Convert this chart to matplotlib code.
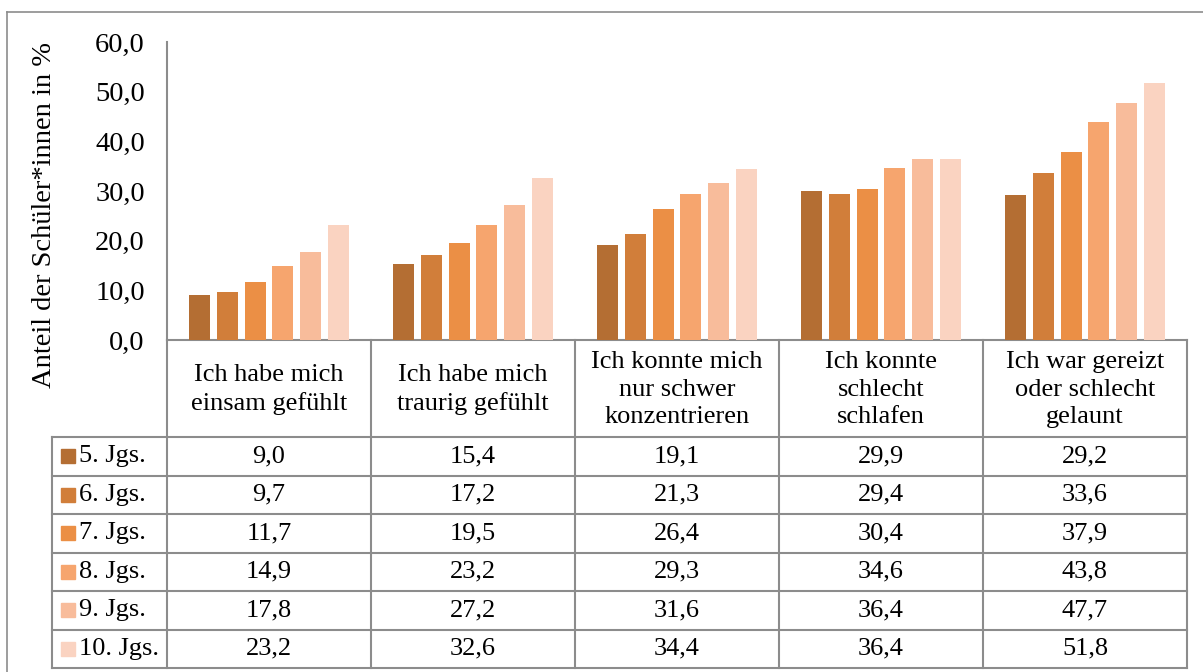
import matplotlib.pyplot as plt
from matplotlib.patches import Rectangle
import numpy as np

plt.rcParams['font.family'] = ['Liberation Serif', 'DejaVu Serif']

categories = ['Ich habe mich\neinsam gefühlt',
              'Ich habe mich\ntraurig gefühlt',
              'Ich konnte mich\nnur schwer\nkonzentrieren',
              'Ich konnte\nschlecht\nschlafen',
              'Ich war gereizt\noder schlecht\ngelaunt']
grades = ['5. Jgs.', '6. Jgs.', '7. Jgs.', '8. Jgs.', '9. Jgs.', '10. Jgs.']
jgs5 = [9.0, 15.4, 19.1, 29.9, 29.2]
jgs6 = [9.7, 17.2, 21.3, 29.4, 33.6]
jgs7 = [11.7, 19.5, 26.4, 30.4, 37.9]
jgs8 = [14.9, 23.2, 29.3, 34.6, 43.8]
jgs9 = [17.8, 27.2, 31.6, 36.4, 47.7]
jgs10 = [23.2, 32.6, 34.4, 36.4, 51.8]
series = [jgs5, jgs6, jgs7, jgs8, jgs9, jgs10]
colors = ['#B46E33', '#D17E3A', '#EB8F45', '#F6A56E', '#F8BC9B', '#FAD3C1']
yticks = [0, 10, 20, 30, 40, 50, 60]

W, H = 1203, 672
grid_col = '#8c8c8c'
fs = 19
fs_ax = 20.5

fig = plt.figure(figsize=(W / 100, H / 100), dpi=100)

# overlay in pixel coordinates for frame and table
ov = fig.add_axes([0, 0, 1, 1])
ov.set_xlim(0, W)
ov.set_ylim(H, 0)
ov.axis('off')

# plot area
x0, x1 = 167, 1187
ytop, ybot = 42, 340
ax = fig.add_axes([x0 / W, 1 - ybot / H, (x1 - x0) / W, (ybot - ytop) / H])
ax.set_facecolor('none')
ncat = len(categories)
xs = np.arange(ncat) + 0.5
step, width = 0.137, 0.103
for j, (vals, c) in enumerate(zip(series, colors)):
    ax.bar(xs + (j - 2.5) * step, vals, width=width, color=c, label=grades[j])
ax.set_xlim(0, ncat)
ax.set_ylim(0, 60)
ax.set_yticks(yticks)
ax.set_yticklabels(['{:.1f}'.format(t).replace('.', ',') for t in yticks], fontsize=fs_ax)
ax.tick_params(axis='y', length=0, pad=16)
ax.set_xticks([])
for s in ['top', 'right', 'bottom']:
    ax.spines[s].set_visible(False)
ax.spines['left'].set_color(grid_col)
ax.spines['left'].set_linewidth(1.5)

fig.text(45 / W, 1 - 215 / H, 'Anteil der Schüler*innen in %', rotation=90,
         ha='center', va='center', fontsize=fs_ax)

# outer frame
ov.plot([7, W + 5], [12, 12], color=grid_col, lw=1.2)
ov.plot([7, 7], [12, H + 5], color=grid_col, lw=1.2)

# table
colw = (x1 - x0) / ncat
col_edges = [x0 + i * colw for i in range(ncat + 1)]
head_bot = 437
row_h = (668 - head_bot) / len(grades)
row_edges = [head_bot + i * row_h for i in range(len(grades) + 1)]
leg_x = 52
lw = 1.5

ov.plot([x0, x1], [ybot, ybot], color=grid_col, lw=lw)
for xe in col_edges:
    ov.plot([xe, xe], [ybot, row_edges[-1]], color=grid_col, lw=lw)
ov.plot([leg_x, leg_x], [head_bot, row_edges[-1]], color=grid_col, lw=lw)
for ye in row_edges:
    ov.plot([leg_x, x1], [ye, ye], color=grid_col, lw=lw)

for i, cat in enumerate(categories):
    ov.text(col_edges[i] + colw / 2, (ybot + head_bot) / 2 + 1, cat, ha='center', va='center',
            fontsize=fs, linespacing=1.3)

for r, (g, vals, c) in enumerate(zip(grades, series, colors)):
    yc = (row_edges[r] + row_edges[r + 1]) / 2
    ov.add_patch(Rectangle((61, yc - 7), 14, 14, color=c))
    ov.text(79, yc, g, ha='left', va='center', fontsize=fs)
    for i, v in enumerate(vals):
        ov.text(col_edges[i] + colw / 2, yc, '{:.1f}'.format(v).replace('.', ','),
                ha='center', va='center', fontsize=fs)

fig.savefig('out.png', dpi=100)
